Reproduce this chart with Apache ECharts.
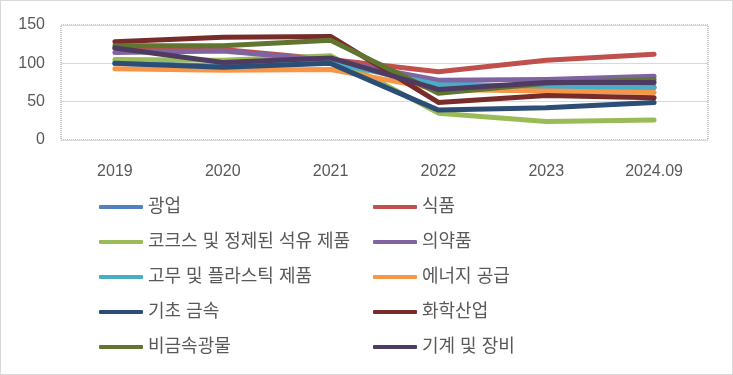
<!DOCTYPE html>
<html>
<head>
<meta charset="utf-8">
<script src="https://cdn.jsdelivr.net/npm/echarts@6/dist/echarts.min.js"></script>
<style>
  html, body { margin: 0; padding: 0; background: #fff; }
  #main { width: 733px; height: 375px; box-sizing: border-box; border: 1px solid #d9d9d9; }
</style>
</head>
<body>
<div id="main"></div>
<script>
// 연도
var years = ['2019', '2020', '2021', '2022', '2023', '2024.09'];
var yTicks = [0, 50, 100, 150];

// 업종별 지수
var mining = [101, 96, 103, 74, 68, 69];          // 광업
var food = [120, 118, 105, 89, 104, 112];         // 식품
var coke = [105, 104, 110, 35, 24, 26];           // 코크스 및 정제된 석유 제품
var pharma = [114, 116, 104, 78, 79, 83];         // 의약품
var rubber = [100, 95, 101, 72, 70, 68];          // 고무 및 플라스틱 제품
var energy = [93, 91, 92, 66, 64, 62];            // 에너지 공급
var metals = [100, 95, 100, 39, 42, 49];          // 기초 금속
var chem = [128, 134, 135, 49, 58, 55];           // 화학산업
var nonMetal = [123, 123, 130, 61, 74, 79];       // 비금속광물
var machine = [120, 101, 107, 66, 75, 75];        // 기계 및 장비

var names = ['광업', '식품', '코크스 및 정제된 석유 제품', '의약품', '고무 및 플라스틱 제품',
  '에너지 공급', '기초 금속', '화학산업', '비금속광물', '기계 및 장비'];
var values = [mining, food, coke, pharma, rubber, energy, metals, chem, nonMetal, machine];
var colors = ['#4F81BD', '#C0504D', '#9BBB59', '#8064A2', '#4BACC6',
  '#F79646', '#2C4D75', '#772C2A', '#5F7530', '#4D3B62'];

var font = '"Liberation Sans", "Noto Sans CJK KR", sans-serif';

var series = [];
for (var i = 0; i < names.length; i++) {
  series.push({
    name: names[i],
    type: 'line',
    data: values[i],
    symbol: 'none',
    lineStyle: { width: 5, color: colors[i], cap: 'round', join: 'round' },
    itemStyle: { color: colors[i] }
  });
}

// 범례 두 열
function legendOf(left, list) {
  return {
    orient: 'vertical',
    left: left,
    top: 196,
    padding: 0,
    itemWidth: 44,
    itemHeight: 4,
    itemGap: 15,
    icon: 'roundRect',
    textStyle: { fontSize: 18, lineHeight: 20, color: '#595959', fontFamily: font },
    data: list
  };
}

var option = {
  animation: false,
  color: colors,
  grid: {
    left: 60, right: 24, top: 24, bottom: 234,
    show: true, borderColor: '#8c8c8c', borderWidth: 1, borderType: 'dotted'
  },
  legend: [
    legendOf(98, [names[0], names[2], names[4], names[6], names[8]]),
    legendOf(372, [names[1], names[3], names[5], names[7], names[9]])
  ],
  xAxis: {
    type: 'category',
    data: years,
    boundaryGap: true,
    axisLine: { lineStyle: { color: '#d9d9d9', width: 1 } },
    axisTick: { show: false },
    axisLabel: { color: '#595959', fontSize: 16, fontFamily: font, margin: 24 }
  },
  yAxis: {
    type: 'value',
    min: yTicks[0],
    max: yTicks[yTicks.length - 1],
    interval: 50,
    axisLine: { show: false },
    axisTick: { show: false },
    splitLine: { lineStyle: { color: '#d9d9d9', width: 1 } },
    axisLabel: { color: '#595959', fontSize: 16, fontFamily: font, margin: 16 }
  },
  series: series
};

var chart = echarts.init(document.getElementById('main'));
chart.setOption(option);
</script>
</body>
</html>
